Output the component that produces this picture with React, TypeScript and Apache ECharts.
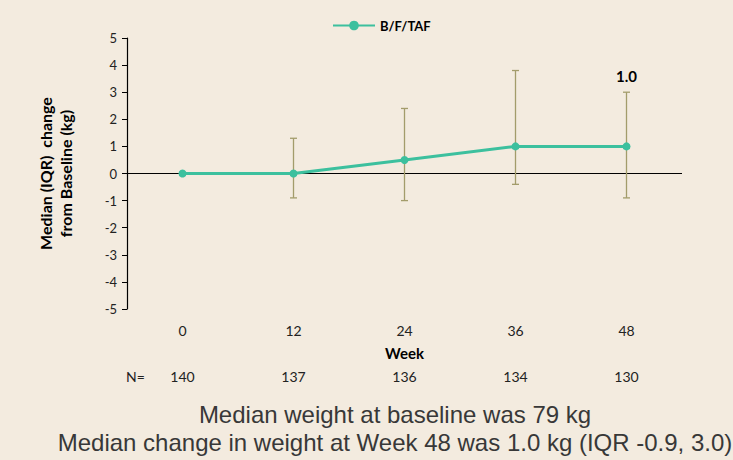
import React, { useEffect, useRef } from "react";
import * as echarts from "echarts";

const weeks = ["0", "12", "24", "36", "48"];
const medianChange = [0, 0, 0.5, 1.0, 1.0];
const iqrLow = [0, -0.9, -1.0, -0.4, -0.9];
const iqrHigh = [0, 1.3, 2.4, 3.8, 3.0];
const nAtRisk = ["140", "137", "136", "134", "130"];
const seriesName = "B/F/TAF";
const lastLabel = "1.0";
const footnote1 = "Median weight at baseline was 79 kg";
const footnote2 = "Median change in weight at Week 48 was 1.0 kg (IQR -0.9, 3.0)";

const FONT = "Lato, 'Open Sans', sans-serif";
const BG = "#F3EBDF";
const TEAL = "#3CC09E";
const OLIVE = "#A39C6B";

export default function App() {
  const ref = useRef<HTMLDivElement>(null);
  useEffect(() => {
    document.body.style.margin = "0";
    const chart = echarts.init(ref.current!, null, { renderer: "svg" });
    const errData = weeks.map((_, i) => [i, iqrLow[i], iqrHigh[i]]);
    chart.setOption({
      animation: false,
      backgroundColor: BG,
      textStyle: { fontFamily: FONT },
      legend: {
        data: [seriesName],
        left: 327,
        top: 14,
        itemWidth: 42,
        itemHeight: 12,
        itemGap: 8,
        textStyle: { fontFamily: FONT, fontWeight: "bold", fontSize: 13, color: "#000" },
      },
      grid: { left: 127, right: 51, top: 38, bottom: 151 },
      xAxis: [
        {
          type: "category",
          data: weeks,
          position: "bottom",
          axisLine: { show: false },
          axisTick: { show: false },
          axisLabel: { margin: 14, fontSize: 14, color: "#222", fontFamily: FONT },
          name: "Week",
          nameLocation: "middle",
          nameGap: 36,
          nameTextStyle: { fontWeight: "bold", fontSize: 15, color: "#000", fontFamily: FONT },
        },
        {
          type: "category",
          data: nAtRisk,
          position: "bottom",
          offset: 46,
          axisLine: { show: false },
          axisTick: { show: false },
          axisLabel: { margin: 14, fontSize: 14, color: "#222", fontFamily: FONT },
        },
      ],
      yAxis: {
        type: "value",
        min: -5,
        max: 5,
        interval: 1,
        splitLine: { show: false },
        axisLine: { show: true, lineStyle: { color: "#000", width: 1.2 } },
        axisTick: { show: true, length: 5, lineStyle: { color: "#000" } },
        axisLabel: { fontSize: 13, color: "#222", margin: 10, fontFamily: FONT },
        name: "Median (IQR)  change\nfrom Baseline (kg)",
        nameLocation: "middle",
        nameRotate: 90,
        nameGap: 52,
        nameTextStyle: { fontWeight: "bold", fontSize: 16, color: "#000", fontFamily: FONT, lineHeight: 20 },
      },
      graphic: [
        {
          type: "text",
          left: 126,
          top: 369,
          style: { text: "N=", fontSize: 14, fill: "#222", fontFamily: FONT },
        },
        {
          type: "text",
          x: 395,
          y: 414,
          style: {
            text: footnote1,
            fontSize: 24,
            fill: "#383838",
            fontFamily: "'Liberation Sans', Arial, sans-serif",
            align: "center",
            verticalAlign: "middle",
          },
        },
        {
          type: "text",
          x: 395,
          y: 442,
          style: {
            text: footnote2,
            fontSize: 24,
            fill: "#383838",
            fontFamily: "'Liberation Sans', Arial, sans-serif",
            align: "center",
            verticalAlign: "middle",
          },
        },
      ],
      series: [
        {
          type: "custom",
          name: "IQR",
          xAxisIndex: 0,
          data: errData,
          z: 2,
          renderItem: (params: any, api: any) => {
            const i = api.value(0);
            const lo = api.value(1);
            const hi = api.value(2);
            if (lo === hi) return null;
            const pLo = api.coord([i, lo]);
            const pHi = api.coord([i, hi]);
            const cap = 3.5;
            const style = { stroke: OLIVE, lineWidth: 1.3 };
            return {
              type: "group",
              children: [
                { type: "line", shape: { x1: pLo[0], y1: pLo[1], x2: pHi[0], y2: pHi[1] }, style },
                { type: "line", shape: { x1: pLo[0] - cap, y1: pLo[1], x2: pLo[0] + cap, y2: pLo[1] }, style },
                { type: "line", shape: { x1: pHi[0] - cap, y1: pHi[1], x2: pHi[0] + cap, y2: pHi[1] }, style },
              ],
            };
          },
          markLine: {
            silent: true,
            symbol: "none",
            z: 1,
            label: { show: false },
            lineStyle: { color: "#000", width: 1.2, type: "solid" },
            data: [{ yAxis: 0 }],
          },
        },
        {
          type: "line",
          name: seriesName,
          xAxisIndex: 0,
          z: 5,
          data: medianChange.map((v, i) =>
            i === medianChange.length - 1
              ? {
                  value: v,
                  label: {
                    show: true,
                    formatter: lastLabel,
                    position: "top",
                    distance: 59,
                    fontWeight: "bold",
                    fontSize: 15,
                    color: "#000",
                    fontFamily: FONT,
                  },
                }
              : v
          ),
          symbol: "circle",
          symbolSize: 8,
          lineStyle: { color: TEAL, width: 3 },
          itemStyle: { color: TEAL },
        },
      ],
    });
    return () => chart.dispose();
  }, []);
  return <div ref={ref} style={{ width: 733, height: 460 }} />;
}
